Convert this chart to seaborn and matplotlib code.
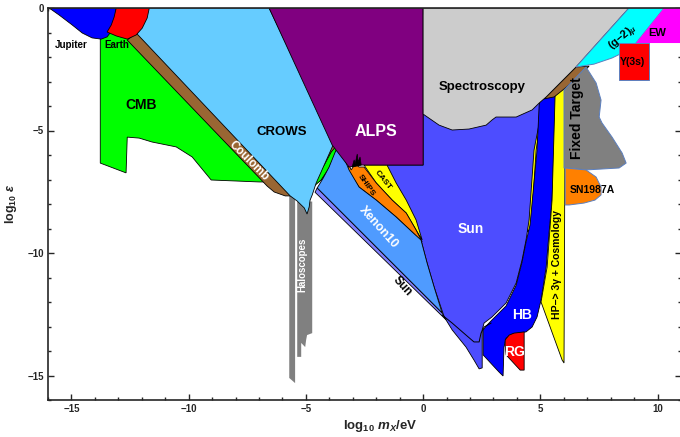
import matplotlib
matplotlib.use("Agg")
import matplotlib.pyplot as plt
from matplotlib.ticker import MultipleLocator
import seaborn as sns

# limits: log10 m/eV and log10 eps for each excluded region
jupiter_m = [-15.95, -15.52, -14.97, -14.54, -14.12, -13.73, -13.48, -13.26, -13.13, -13.09]
jupiter_e = [0, -0.29, -0.69, -1.02, -1.22, -1.27, -1.18, -0.9, -0.49, 0]
earth_m = [-13.09, -13.18, -13.30, -13.48, -13.09, -12.62, -12.24, -11.98, -11.77, -11.68]
earth_e = [0, -0.37, -0.69, -0.98, -1.14, -1.27, -1.10, -0.82, -0.41, 0]
cmb_m = [-13.77, -12.75, -6.35, -6.99, -9.04, -9.85, -10.53, -11.56, -12.11, -12.62, -12.67, -13.77]
cmb_e = [-0.98, -0.90, -7.10, -7.10, -7.02, -6.08, -5.67, -5.47, -5.31, -5.27, -6.73, -6.33]
coulomb_m = [-12.62, -12.20, -4.22, -3.67, -3.75, -4.35, -5.29, -5.88, -6.35, -6.65]
coulomb_e = [-1.31, -0.98, -4.90, -5.39, -6.20, -7.02, -7.67, -7.67, -7.51, -7.27]
lens_m = [-4.65, -4.52, -4.22, -3.92, -3.67, -3.75, -4.01, -4.35]
lens_e = [-7.27, -6.86, -6.41, -5.88, -5.59, -6.0, -6.53, -7.02]
crows_m = [-11.90, -6.57, -3.80, -4.56, -4.73, -4.82, -4.86, -4.95, -5.07, -5.20, -5.37, -5.67, -12.20]
crows_e = [0, 0, -5.51, -7.14, -7.63, -7.84, -8.12, -8.41, -8.16, -8.04, -7.88, -7.67, -1.06]
alps_m = [-6.57, 0, 0, -2.64, -3.16, -3.88]
alps_e = [0, 0, -6.41, -6.41, -6.49, -5.59]
spikes_m = [-3.03, -2.94, -2.90, -2.81, -2.77, -2.69, -2.64]
spikes_e = [-6.49, -6.20, -6.37, -5.96, -6.29, -6.08, -6.41]
sun_m = [-1.62, 0, 0, 5.16, 4.73, 4.52, 4.39, 4.22, 3.97, 3.54, 2.94, 2.60, 2.52, 2.52,
         2.39, 2.17, 1.83, 1.24, 0.90, 0.47, 0.17, -0.09, -0.81]
sun_e = [-6.41, -6.41, -4.16, -3.67, -5.80, -8.65, -9.47, -10.29, -11.22, -12.04, -12.61, -12.86,
         -13.14, -14.69, -14.73, -14.37, -13.84, -13.14, -12.61, -11.39, -10.41, -9.47, -8.04]
cast_m = [-2.52, -1.54, -1.15, -0.72, -0.30, -0.04, -0.30, -0.72, -1.32, -2.00]
cast_e = [-6.41, -6.41, -7.14, -7.84, -8.65, -9.47, -9.06, -8.37, -7.84, -7.14]
ships_m = [-3.28, -3.16, -3.07, -2.90, -2.73, -2.52, -2.00, -1.32, -0.72, -0.30, -0.04,
           -0.47, -1.15, -2.00, -2.73, -3.16]
ships_e = [-6.69, -6.41, -6.61, -6.37, -6.49, -6.49, -7.14, -7.84, -8.37, -9.06, -9.55,
           -9.14, -8.53, -7.84, -7.31, -6.69]
xenon_m = [-4.52, -4.26, -4.01, -3.75, -3.58, -3.37, -3.16, -2.73, -2.00, -1.15, -0.47,
           -0.09, 0.17, 0.47, 0.81]
xenon_e = [-7.35, -6.94, -6.49, -5.88, -5.67, -6.12, -6.61, -7.31, -7.84, -8.53, -9.14,
           -9.47, -10.41, -11.39, -12.45]
sunstrip_m = [-4.52, 0.81, 0.98, -4.61]
sunstrip_e = [-7.35, -12.45, -12.73, -7.52]
sunline_m = [0.81, 1.24, 1.83, 2.17, 2.39, 2.47, 2.60, 2.90]
sunline_e = [-12.53, -12.86, -13.35, -13.63, -13.63, -13.27, -13.02, -12.86]
ystrip_m = [4.65, 5.16, 4.82, 4.61, 4.43, 4.56]
ystrip_e = [-3.96, -3.67, -5.80, -8.98, -9.14, -5.80]
hb_m = [4.99, 5.67, 5.50, 5.37, 5.25, 5.03, 4.86, 4.65, 4.39, 3.80, 3.54, 3.45, 3.41, 3.24,
        2.56, 2.56, 2.69, 2.94, 3.54, 3.97, 4.22, 4.39, 4.56, 4.86, 4.95]
hb_e = [-3.76, -3.47, -7.84, -9.18, -10.57, -11.92, -12.61, -13.02, -13.22, -13.31, -13.47,
        -13.84, -15.02, -14.86, -14.16, -13.14, -12.98, -12.73, -12.16, -11.31, -10.37, -9.55,
        -8.86, -5.80, -3.96]
rg_m = [3.50, 3.67, 3.88, 4.31, 4.31, 4.14, 3.54, 3.50]
rg_e = [-13.55, -13.35, -13.27, -13.22, -14.78, -14.78, -14.16, -13.76]
hp_m = [5.63, 6.06, 6.01, 5.93, 5.03, 5.29, 5.50]
hp_e = [-3.55, -3.14, -14.49, -14.37, -12.0, -10.57, -7.84]
wedge_m = [5.16, 6.52, 7.08, 6.74, 6.06, 5.59]
wedge_e = [-3.71, -2.41, -2.37, -2.73, -3.27, -3.63]
spec_m = [0, 8.78, 6.52, 5.80, 5.25, 4.95, 4.65, 3.97, 3.11, 2.94, 2.69, 1.96, 1.24, 0.68, 0]
spec_e = [0, 0, -2.41, -3.10, -3.63, -3.88, -4.16, -4.45, -4.45, -4.57, -4.78, -4.94, -4.98,
          -4.78, -4.33]
fixed_m = [6.01, 6.95, 7.38, 7.59, 7.51, 7.63, 8.06, 8.49, 8.66, 8.36, 6.95, 6.10, 6.01]
fixed_e = [-3.35, -2.41, -3.06, -3.76, -4.45, -4.69, -5.27, -5.92, -6.33, -6.53, -6.61, -6.53, -6.53]
sn_m = [6.06, 6.95, 7.38, 7.59, 7.59, 7.33, 6.87, 6.23, 6.06]
sn_e = [-6.53, -6.61, -6.90, -7.31, -7.63, -7.84, -7.96, -8.04, -8.04]
g2_m = [8.78, 10.28, 9.08, 8.66, 8.06, 7.29, 6.52]
g2_e = [0, 0, -1.43, -1.76, -2.04, -2.29, -2.41]
ew_m = [9.08, 10.28, 11.0, 11.0]
ew_e = [-1.43, 0, 0, -1.43]
ups_m = [8.36, 9.64, 9.64, 8.36]
ups_e = [-1.43, -1.43, -2.94, -2.94]
halo1_m = [-5.71, -5.46, -5.46, -5.71]
halo1_e = [-7.0, -7.0, -15.31, -15.10]
halo2_m = [-5.37, -4.73, -4.73, -4.95, -4.99, -5.03, -5.20, -5.20, -5.37]
halo2_e = [-7.9, -7.9, -13.27, -13.35, -13.55, -13.84, -13.67, -14.24, -14.24]

sns.set_style("ticks")
plt.rcParams['font.family'] = ['Liberation Sans', 'DejaVu Sans']
plt.rcParams['font.weight'] = 'bold'
plt.rcParams['mathtext.fontset'] = 'custom'
plt.rcParams['mathtext.rm'] = 'Liberation Sans:bold'
plt.rcParams['mathtext.it'] = 'Liberation Sans:italic:bold'
plt.rcParams['mathtext.bf'] = 'Liberation Sans:bold'

fig = plt.figure(figsize=(6.8, 4.37), dpi=100)
ax = fig.add_axes([48 / 680, 37 / 437, 633 / 680, 392 / 437])

edge = dict(edgecolor='black', linewidth=0.6)
blue_edge = dict(edgecolor='#5b7fbf', linewidth=0.7)

# draw order matters: later regions sit on top
ax.fill(halo1_m, halo1_e, color='#808080', lw=0)
ax.fill(halo2_m, halo2_e, color='#808080', lw=0)
ax.fill(cmb_m, cmb_e, facecolor='#00ff00', **edge)
ax.fill(coulomb_m, coulomb_e, facecolor='#996633', **edge)
ax.fill(lens_m, lens_e, facecolor='#00ff00', **edge)
ax.fill(crows_m, crows_e, facecolor='#66ccff', **edge)
ax.fill(ystrip_m, ystrip_e, facecolor='#ffff00', **edge)
ax.fill(sun_m, sun_e, facecolor='#4d4dff', **edge)
ax.fill(cast_m, cast_e, facecolor='#ffff00', **edge)
ax.fill(ships_m, ships_e, facecolor='#ff8000', **edge)
ax.fill(xenon_m, xenon_e, facecolor='#4f9bff', **edge)
ax.fill(sunstrip_m, sunstrip_e, facecolor='#8080ff', **edge)
ax.fill(alps_m, alps_e, facecolor='#800080', **edge)
ax.fill(spikes_m, spikes_e, facecolor='black', edgecolor='black', lw=0.5)
ax.fill(jupiter_m, jupiter_e, facecolor='#0000ff', **edge)
ax.fill(earth_m, earth_e, facecolor='#ff0000', **edge)
ax.fill(hb_m, hb_e, facecolor='#0000ff', **edge)
ax.fill(rg_m, rg_e, facecolor='#ff0000', **edge)
ax.fill(hp_m, hp_e, facecolor='#ffff00', **edge)
ax.fill(wedge_m, wedge_e, facecolor='#996633', **edge)
ax.fill(spec_m, spec_e, facecolor='#cccccc', **edge)
ax.fill(fixed_m, fixed_e, facecolor='#808080', **blue_edge)
ax.fill(sn_m, sn_e, facecolor='#ff8000', **blue_edge)
ax.fill(g2_m, g2_e, facecolor='#00ffff', **blue_edge)
ax.fill(ew_m, ew_e, facecolor='#ff00ff', lw=0)
ax.fill(ups_m, ups_e, facecolor='#ff0000', **blue_edge)
ax.plot(sunline_m, sunline_e, color='black', lw=0.7)

# labels
def lab(x, y, s, size=9, color='black', rot=0):
    ax.text(x, y, s, fontsize=size, color=color, rotation=rot, ha='center', va='center',
            fontweight='bold', rotation_mode='anchor')

lab(-15.0, -1.51, 'Jupiter', 7)
lab(-13.05, -1.51, 'Earth', 7)
lab(-12.03, -3.96, 'CMB', 10)
lab(-7.42, -6.24, 'Coulomb', 8.5, 'white', -45)
lab(-6.01, -5.06, 'CROWS', 9.5)
lab(-2.0, -5.06, 'ALPS', 11.5, 'white')
lab(2.52, -3.22, 'Spectroscopy', 9.5)
lab(2.05, -9.02, 'Sun', 10, 'white')
lab(-1.92, -8.94, 'Xenon10', 9, 'white', -48)
lab(-0.90, -11.35, 'Sun', 8.5, 'black', -48)
lab(-2.43, -7.22, 'SHIPS', 6, 'black', -55)
lab(-1.71, -7.02, 'CAST', 6, 'black', -52)
lab(-5.16, -10.49, 'Haloscopes', 7, 'white', 90)
lab(4.22, -12.53, 'HB', 10, 'white')
lab(3.88, -14.04, 'RG', 10, 'white')
lab(5.71, -10.45, 'HP−> 3γ + Cosmology', 7.5, 'black', 90)
lab(6.57, -4.49, 'Fixed Target', 10, 'black', 90)
lab(7.21, -7.43, 'SN1987A', 7.5)
lab(8.57, -1.22, '(g−2)$_{\\mu}$', 8, 'black', 40)
lab(9.98, -1.02, 'EW', 8)
lab(8.91, -2.2, 'Υ(3s)', 7.5)

ax.set_xlim(-16, 11)
ax.set_ylim(-16, 0)
ax.xaxis.set_major_locator(MultipleLocator(5))
ax.xaxis.set_minor_locator(MultipleLocator(1))
ax.yaxis.set_major_locator(MultipleLocator(5))
ax.yaxis.set_minor_locator(MultipleLocator(1))
ax.tick_params(which='both', direction='in', top=True, right=True, width=1.0)
ax.tick_params(which='major', length=4, labelsize=7, pad=3)
ax.tick_params(which='minor', length=2)
for t in ax.get_xticklabels() + ax.get_yticklabels():
    t.set_fontweight('bold')
for s in ax.spines.values():
    s.set_linewidth(1.2)
    s.set_zorder(5)

ax.set_xlabel('log$_{10}$ $m_X$/eV', fontsize=9.5, fontweight='bold', x=0.525, labelpad=3)
ax.set_ylabel('log$_{10}$ $ε$', fontsize=9, fontweight='bold', labelpad=6)

fig.savefig('out.png', dpi=100)
